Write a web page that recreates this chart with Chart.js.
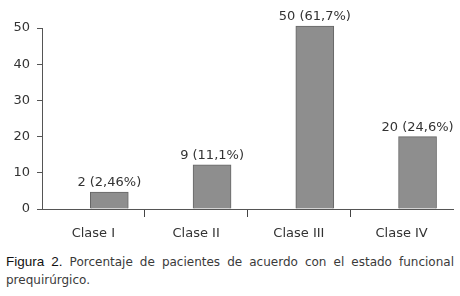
<!DOCTYPE html>
<html>
<head>
<meta charset="utf-8">
<script src="https://cdn.jsdelivr.net/npm/chart.js@4.4.1/dist/chart.umd.min.js"></script>
<style>
	body { margin: 0; background: #fff; }
	#wrap { position: relative; width: 460px; height: 296px; }
	#chart { position: absolute; left: 0; top: 0; }
	.caption { position: absolute; left: 6px; width: 448px; font-family: "DejaVu Sans", sans-serif; font-size: 12px; color: #3a3a3a; line-height: 18px; }
	.caption b { font-family: "Liberation Sans", Arial, sans-serif; font-weight: normal; font-size: 13.5px; color: #111; }
	#cap1 { top: 253px; text-align: justify; text-align-last: justify; white-space: nowrap; }
	#cap2 { top: 271px; }
</style>
</head>
<body>
<div id="wrap">
	<canvas id="chart" width="460" height="246"></canvas>
	<div class="caption" id="cap1"><b>Figura 2.</b> Porcentaje de pacientes de acuerdo con el estado funcional</div>
	<div class="caption" id="cap2">prequirúrgico.</div>
</div>
<script>
const categories = ["Clase I", "Clase II", "Clase III", "Clase IV"]
const barHeights = [4.7, 12.2, 50.5, 20]
const barLabels = ["2 (2,46%)", "9 (11,1%)", "50 (61,7%)", "20 (24,6%)"]
const yTicks = [0, 10, 20, 30, 40, 50]

const barShift = 0.155 //bars sit a bit right of the category centre in the original

const labelPlugin = { //write the count/percent text above each bar
	id: "barText",
	afterDatasetsDraw(chart) {
		const ctx = chart.ctx
		const meta = chart.getDatasetMeta(0)
		ctx.save()
		ctx.font = "13px 'DejaVu Sans'"
		ctx.fillStyle = "#333"
		ctx.textAlign = "center"
		ctx.textBaseline = "alphabetic"
		meta.data.forEach((bar, i) => {
			ctx.fillText(barLabels[i], bar.x, bar.y - 6)
		})
		ctx.restore()
	}
}

new Chart(document.getElementById("chart"), {
	type: "bar",
	data: {
		labels: categories,
		datasets: [{
			data: barHeights.map((v, i) => ({ x: i, y: v })),
			xAxisID: "xb",
			backgroundColor: "#8e8e8e",
			borderColor: "#666",
			borderWidth: 1,
			barThickness: 38,
			clip: false
		}]
	},
	options: {
		responsive: false,
		devicePixelRatio: 1,
		animation: false,
		layout: { padding: { top: 28, right: 7, left: 0, bottom: 0 } },
		plugins: { legend: { display: false }, tooltip: { enabled: false } },
		scales: {
			xb: {
				type: "linear",
				display: false,
				offset: false,
				grid: { offset: false },
				min: -0.5 - barShift,
				max: 3.5 - barShift
			},
			x: {
				type: "category",
				offset: true,
				grid: {
					offset: true,
					drawOnChartArea: false,
					tickLength: 8,
					tickColor: c => c.index > 0 ? "#444" : "rgba(0,0,0,0)"
				},
				border: { color: "#555", width: 1 },
				ticks: { color: "#333", font: { family: "DejaVu Sans", size: 13 }, padding: 9, maxRotation: 0 },
				afterFit: s => { s.height = 37 }
			},
			y: {
				min: 0,
				max: 50,
				afterBuildTicks: s => { s.ticks = yTicks.map(v => ({ value: v })) },
				grid: { drawOnChartArea: false, tickLength: 5, tickColor: "#555" },
				border: { color: "#555", width: 1 },
				ticks: { color: "#333", font: { family: "DejaVu Sans", size: 13 }, padding: 7 },
				afterFit: s => { s.width = 42 }
			}
		}
	},
	plugins: [labelPlugin]
})
</script>
</body>
</html>
